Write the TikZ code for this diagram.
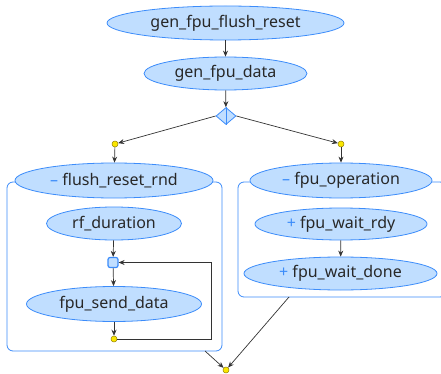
\documentclass[tikz,border=0pt]{standalone}
\usepackage{fontspec}
\setmainfont{Noto Sans}
\usetikzlibrary{shapes.geometric,arrows.meta,calc}
\definecolor{efill}{RGB}{192,222,255}
\definecolor{eline}{RGB}{60,140,250}
\definecolor{txt}{RGB}{40,40,40}
\definecolor{dotfill}{RGB}{250,230,0}
\definecolor{dotline}{RGB}{150,130,0}
\begin{document}
\begin{tikzpicture}[x=1pt,y=-1pt,
  stateell/.style={ellipse,draw=eline,fill=efill,line width=0.8pt,inner sep=0pt,text=txt,font=\fontsize{16}{18}\selectfont},
  ydot/.style={circle,draw=dotline,fill=dotfill,line width=0.5pt,inner sep=0pt,minimum size=6pt},
  cont/.style={draw=eline,line width=0.8pt,rounded corners=6pt,fill=white},
  conn/.style={draw=black!80,line width=0.7pt,-{Stealth[length=6pt,width=5pt]}},
  sym/.style={text=eline}]
\useasboundingbox (0,0) rectangle (441,374);
% containers
\draw[cont] (7,182) rectangle (222,351);
\draw[cont] (238,182) rectangle (446,297);
% nodes
\node[stateell,minimum width=237,minimum height=34] (top) at (225.5,23) {gen\_fpu\_flush\_reset};
\node[stateell,minimum width=163,minimum height=33] (data) at (225.5,73.5) {gen\_fpu\_data};
\node[diamond,draw=eline,fill=efill,line width=0.8pt,inner sep=0pt,minimum width=20,minimum height=17] (fork) at (226,116) {};
\draw[eline,line width=0.8pt] (fork.north) -- (fork.south);
\node[ydot] (ld) at (115,144) {};
\node[ydot] (rd) at (341,144) {};
\node[stateell,minimum width=198,minimum height=35] (frr) at (114,180.5) {\textcolor{eline}{–} flush\_reset\_rnd};
\node[stateell,minimum width=135,minimum height=33] (rfd) at (114,223.5) {rf\_duration};
\node[rectangle,rounded corners=2pt,draw=eline,fill=efill,line width=1.2pt,inner sep=0pt,minimum size=10pt] (mrg) at (113,262.5) {};
\node[stateell,minimum width=175,minimum height=35] (fsd) at (114,304) {fpu\_send\_data};
\node[ydot] (ld2) at (114,339) {};
\node[stateell,minimum width=182,minimum height=35] (fop) at (341,180.5) {\textcolor{eline}{–} fpu\_operation};
\node[stateell,minimum width=172,minimum height=32] (fwr) at (341,224) {\textcolor{eline}{+} fpu\_wait\_rdy};
\node[stateell,minimum width=193,minimum height=33] (fwd) at (340.5,273.5) {\textcolor{eline}{+} fpu\_wait\_done};
\node[ydot] (bd) at (226,370) {};
\coordinate (lcout) at (205,351);
\coordinate (rcout) at (289,297);
\coordinate (loopx) at (211,339);
% edges
\draw[conn] (top) -- (data);
\draw[conn] (data) -- (fork);
\draw[conn] (fork.west) -- (ld);
\draw[conn] (fork.east) -- (rd);
\draw[conn] (ld) -- (frr);
\draw[conn] (rd) -- (fop);
\draw[conn] (rfd) -- (mrg);
\draw[conn] (mrg) -- (fsd);
\draw[conn] (fsd) -- (ld2);
\draw[conn] (ld2.east) -- (loopx) |- (mrg.east);
\draw[conn] (fwr) -- (fwd);
\draw[conn] (lcout) -- (bd);
\draw[conn] (rcout) -- (bd);
\end{tikzpicture}
\end{document}
